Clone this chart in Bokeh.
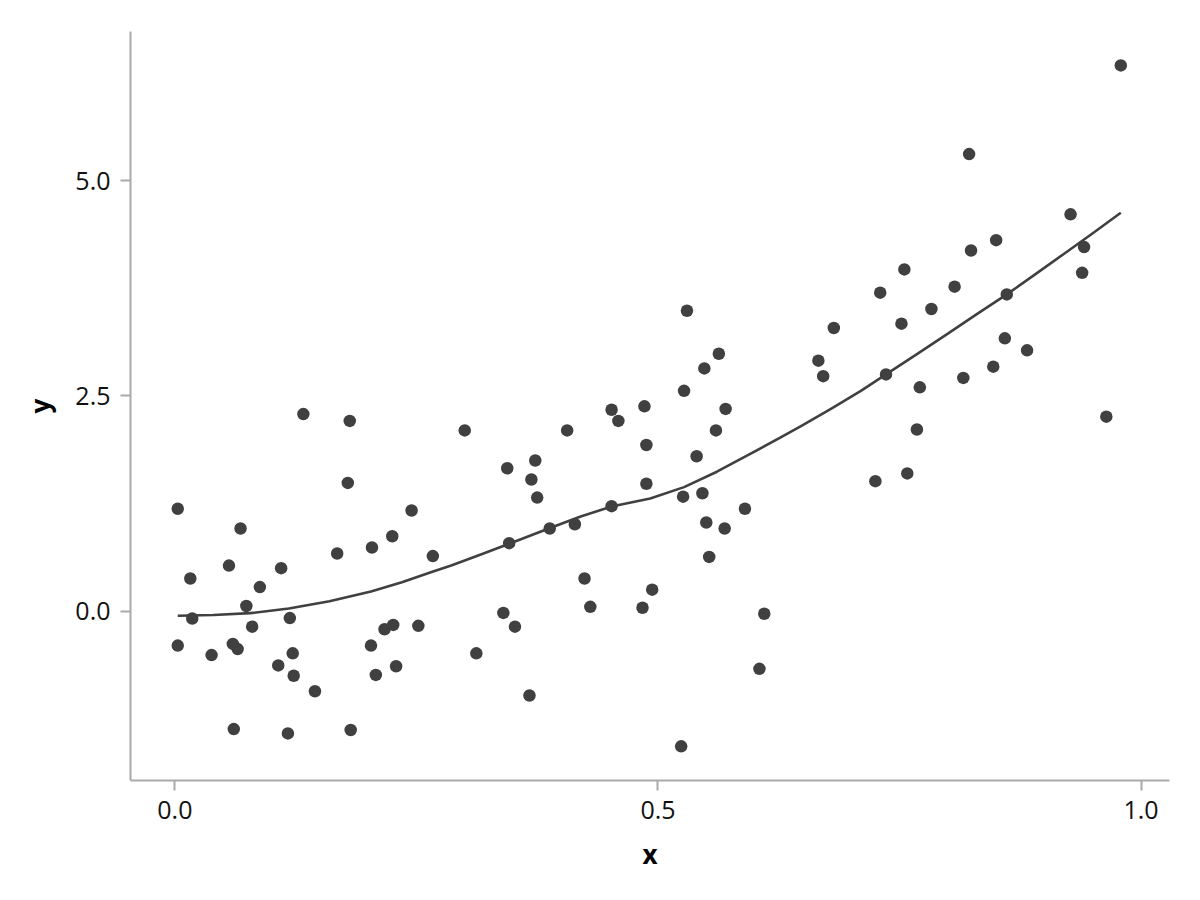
from bokeh.plotting import figure
from bokeh.embed import file_html
from bokeh.resources import INLINE
from bokeh.models import FixedTicker, Range1d, NumeralTickFormatter

# Scatter data
x_pts = [0.003, 0.003, 0.016, 0.018, 0.038, 0.056, 0.060, 0.065, 0.061, 0.068,
         0.074, 0.080, 0.088, 0.107, 0.110, 0.117, 0.119, 0.122, 0.123, 0.133,
         0.145, 0.168, 0.179, 0.181, 0.182, 0.203, 0.204, 0.208, 0.217, 0.225,
         0.226, 0.229, 0.245, 0.252, 0.267, 0.300, 0.312, 0.340, 0.344, 0.346,
         0.352, 0.367, 0.369, 0.373, 0.375, 0.388, 0.406, 0.414, 0.424, 0.430,
         0.452, 0.452, 0.459, 0.484, 0.486, 0.488, 0.488, 0.494, 0.524, 0.526,
         0.527, 0.530, 0.540, 0.546, 0.548, 0.550, 0.553, 0.560, 0.563, 0.569,
         0.570, 0.590, 0.605, 0.610, 0.666, 0.671, 0.682, 0.725, 0.730, 0.736,
         0.752, 0.755, 0.758, 0.768, 0.771, 0.783, 0.807, 0.816, 0.822, 0.824,
         0.847, 0.850, 0.859, 0.861, 0.882, 0.927, 0.939, 0.941, 0.964, 0.979]
y_pts = [1.19, -0.40, 0.38, -0.085, -0.51, 0.53, -0.38, -0.44, -1.37, 0.96,
         0.06, -0.18, 0.28, -0.63, 0.50, -1.42, -0.08, -0.49, -0.75, 2.29,
         -0.93, 0.67, 1.49, 2.21, -1.38, -0.40, 0.74, -0.74, -0.21, 0.87,
         -0.16, -0.64, 1.17, -0.17, 0.64, 2.10, -0.49, -0.02, 1.66, 0.79,
         -0.18, -0.98, 1.53, 1.75, 1.32, 0.96, 2.10, 1.01, 0.38, 0.05,
         2.34, 1.22, 2.21, 0.04, 2.38, 1.93, 1.48, 0.25, -1.57, 1.33,
         2.56, 3.49, 1.80, 1.37, 2.82, 1.03, 0.63, 2.10, 2.99, 0.96,
         2.35, 1.19, -0.67, -0.03, 2.91, 2.73, 3.29, 1.51, 3.70, 2.75,
         3.34, 3.97, 1.60, 2.11, 2.60, 3.51, 3.77, 2.71, 5.31, 4.19,
         2.84, 4.31, 3.17, 3.68, 3.03, 4.61, 3.93, 4.23, 2.26, 6.34]

# Fitted curve
x_fit = [0.003, 0.040, 0.078, 0.118, 0.160, 0.203, 0.235, 0.265, 0.286, 0.316,
         0.346, 0.389, 0.420, 0.452, 0.492, 0.527, 0.561, 0.596, 0.627, 0.648,
         0.679, 0.710, 0.736, 0.770, 0.800, 0.830, 0.861, 0.890, 0.920, 0.950, 0.979]
y_fit = [-0.053, -0.045, -0.023, 0.031, 0.115, 0.229, 0.335, 0.453, 0.531, 0.655,
         0.783, 0.969, 1.100, 1.216, 1.310, 1.441, 1.620, 1.830, 2.020, 2.150,
         2.350, 2.560, 2.750, 3.000, 3.225, 3.450, 3.680, 3.910, 4.150, 4.390, 4.628]

x_ticks = [0.0, 0.5, 1.0]
y_ticks = [0.0, 2.5, 5.0]

DARK = "#404040"
AXIS = "#aaaaaa"
FONT = "Open Sans"

p = figure(width=1192, height=892, output_backend="svg", toolbar_location=None,
           x_range=Range1d(-0.0459, 1.0294), y_range=Range1d(-1.967, 6.734),
           min_border_left=130, min_border_right=23, min_border_top=31,
           min_border_bottom=112)
p.outline_line_color = None
p.grid.grid_line_color = None
p.background_fill_color = "white"
p.border_fill_color = "white"

p.line(x_fit, y_fit, line_color=DARK, line_width=2.6, line_join="round")
p.scatter(x_pts, y_pts, size=12.5, fill_color=DARK, line_color=None)

p.xaxis.ticker = FixedTicker(ticks=x_ticks)
p.yaxis.ticker = FixedTicker(ticks=y_ticks)
p.xaxis.formatter = NumeralTickFormatter(format="0.0")
p.yaxis.formatter = NumeralTickFormatter(format="0.0")
p.xaxis.axis_label = "x"
p.yaxis.axis_label = "y"

for ax in (p.xaxis, p.yaxis):
    ax.axis_line_color = AXIS
    ax.axis_line_width = 2
    ax.major_tick_line_color = AXIS
    ax.major_tick_line_width = 2
    ax.major_tick_out = 10
    ax.major_tick_in = 0
    ax.minor_tick_out = 0
    ax.minor_tick_in = 0
    ax.major_label_text_font = FONT
    ax.major_label_text_font_size = "25px"
    ax.major_label_text_color = "#111111"
    ax.major_label_standoff = 10
    ax.axis_label_text_font = FONT
    ax.axis_label_text_font_size = "26px"
    ax.axis_label_text_font_style = "bold"
    ax.axis_label_text_color = "#000000"
    ax.axis_label_standoff = 14

open("out.html", "w").write(file_html(p, INLINE))
